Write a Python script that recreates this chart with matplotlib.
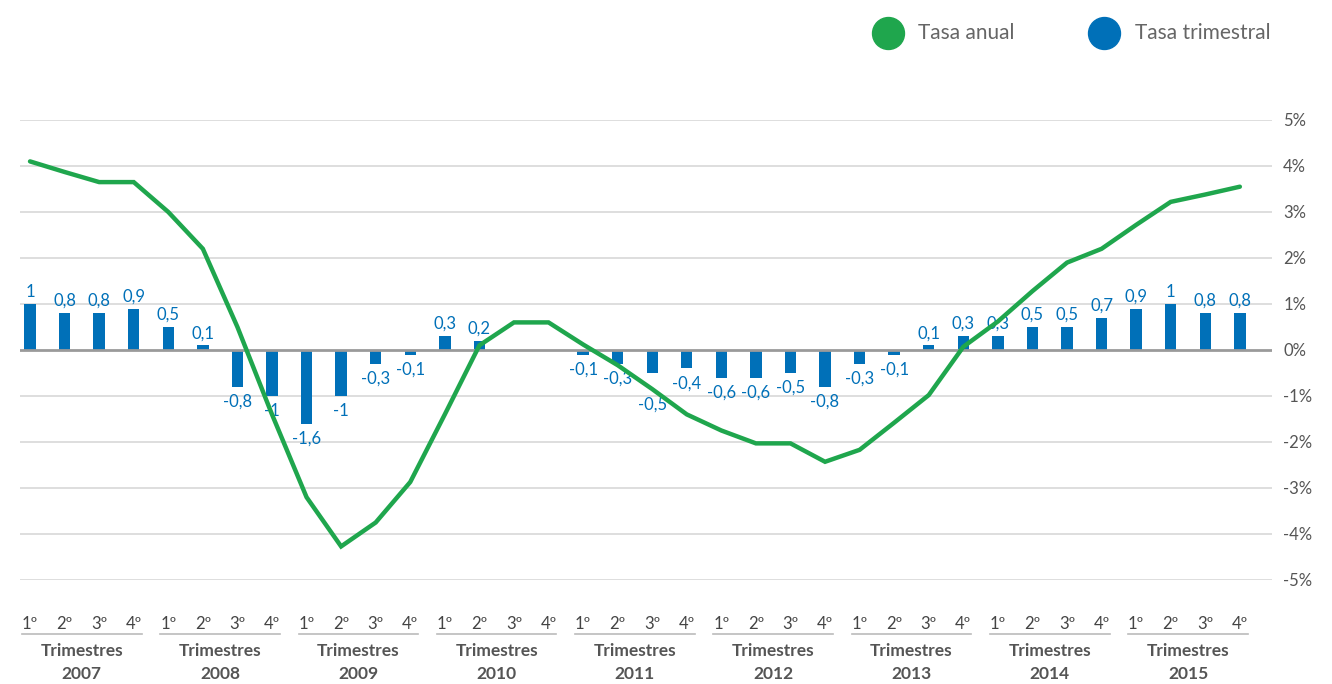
import matplotlib
matplotlib.use("Agg")
import matplotlib.pyplot as plt
import matplotlib.transforms as mtransforms
from matplotlib.lines import Line2D
import numpy as np

plt.rcParams['font.family'] = ['Lato', 'DejaVu Sans']

years = ['2007', '2008', '2009', '2010', '2011', '2012', '2013', '2014', '2015']
quarters = ['1º', '2º', '3º', '4º']
group_label = 'Trimestres'

tasa_trimestral = [1, 0.8, 0.8, 0.9,
                   0.5, 0.1, -0.8, -1,
                   -1.6, -1, -0.3, -0.1,
                   0.3, 0.2, None, None,
                   -0.1, -0.3, -0.5, -0.4,
                   -0.6, -0.6, -0.5, -0.8,
                   -0.3, -0.1, 0.1, 0.3,
                   0.3, 0.5, 0.5, 0.7,
                   0.9, 1, 0.8, 0.8]

tasa_anual = [4.1, 3.87, 3.65, 3.65,
              3.0, 2.2, 0.5, -1.4,
              -3.2, -4.27, -3.75, -2.87,
              -1.4, 0.1, 0.6, 0.6,
              0.12, -0.33, -0.85, -1.4,
              -1.75, -2.03, -2.03, -2.43,
              -2.17, -1.58, -0.98, 0.07,
              0.62, 1.28, 1.9, 2.2,
              2.72, 3.22, 3.38, 3.55]

series_names = ['Tasa anual', 'Tasa trimestral']
yticks = [-5, -4, -3, -2, -1, 0, 1, 2, 3, 4, 5]

GREEN = '#1fa64d'
BLUE = '#0070b8'
GRAY_TXT = '#555555'

fig = plt.figure(figsize=(13.32, 6.84), dpi=100)
ax = fig.add_axes([20/1332, (684-580)/684, (1272-20)/1332, 460/684])

n = len(tasa_trimestral)
x = np.arange(n)

for t in yticks:
    if t == 0:
        continue
    ax.axhline(t, color='#dedede', lw=1.4, zorder=0)

bx = [i for i in x if tasa_trimestral[i] is not None]
bv = [tasa_trimestral[i] for i in bx]
ax.bar(bx, bv, width=0.33, color=BLUE, zorder=2)
ax.axhline(0, color='#9a9a9a', lw=2.0, zorder=3)

def fmt(v):
    return ('%g' % v).replace('.', ',')

ax.plot(x, tasa_anual, color=GREEN, lw=3.2, zorder=5,
        solid_capstyle='round', solid_joinstyle='miter')

for i, v in zip(bx, bv):
    if v >= 0:
        off, va = 3, 'bottom'
    else:
        off, va = -5, 'top'
        # push the label down if the (gently sloping) annual line runs through it
        slope = tasa_anual[min(i + 1, n - 1)] - tasa_anual[max(i - 1, 0)]
        if abs(tasa_anual[i] - (v - 0.3)) < 0.2 and abs(slope) < 2:
            off = -17
    ax.annotate(fmt(v), (i, v), xytext=(0, off), textcoords='offset points',
                ha='center', va=va, color=BLUE, fontsize=12, zorder=4)

ax.set_xlim(-0.29, 35.93)
ax.set_ylim(-5, 5)
for s in ax.spines.values():
    s.set_visible(False)

ax.yaxis.tick_right()
ax.set_yticks(yticks)
ax.set_yticklabels([f'{t}%' for t in yticks], color=GRAY_TXT, fontsize=12)
ax.tick_params(axis='y', length=0, pad=8)

ax.set_xticks(x)
ax.set_xticklabels(quarters * len(years), color='#444444', fontsize=12)
ax.tick_params(axis='x', length=0, pad=26)

trans = mtransforms.blended_transform_factory(ax.transData, ax.transAxes)
for k, yr in enumerate(years):
    x0 = 4 * k - 0.23
    x1 = 4 * k + 3.23
    ax.plot([x0, x1], [-54/460, -54/460], transform=trans, color='#bbbbbb',
            lw=1.2, clip_on=False)
    ax.text(4 * k + 1.5, -71/460, group_label, transform=trans, ha='center',
            va='center', color=GRAY_TXT, fontsize=12.5, fontweight='bold')
    ax.text(4 * k + 1.5, -94/460, yr, transform=trans, ha='center',
            va='center', color=GRAY_TXT, fontsize=12.5, fontweight='bold')

# legend
for cx, tx, col, name in [(888, 918, GREEN, series_names[0]),
                          (1104, 1135, BLUE, series_names[1])]:
    fig.add_artist(Line2D([cx/1332], [1 - 33/684], transform=fig.transFigure,
                          marker='o', markersize=23, color=col, linestyle='none'))
    fig.text(tx/1332, 1 - 33/684, name, ha='left', va='center',
             color='#666666', fontsize=15)

fig.savefig('out.png', dpi=100)
